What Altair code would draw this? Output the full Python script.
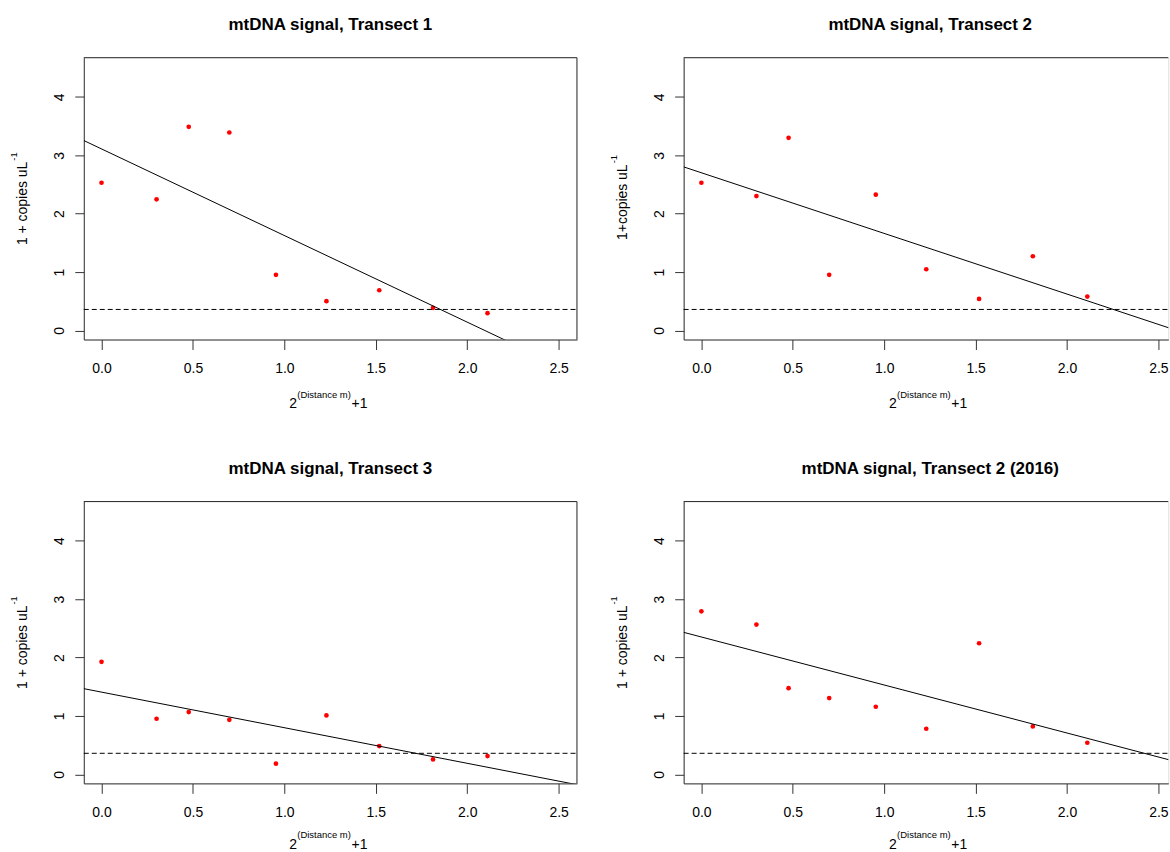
import altair as alt
import pandas as pd

# ---------------- data ----------------
x_vals = [0.000, 0.301, 0.477, 0.699, 0.954, 1.230, 1.519, 1.813, 2.111]
transect_1 = [2.530, 2.245, 3.487, 3.390, 0.952, 0.501, 0.689, 0.387, 0.296]
transect_2 = [2.530, 2.302, 3.299, 0.952, 2.325, 1.048, 0.541, 1.271, 0.581]
transect_3 = [1.926, 0.952, 1.066, 0.934, 0.182, 1.009, 0.484, 0.256, 0.313]
transect_2_2016 = [2.792, 2.564, 1.476, 1.305, 1.157, 0.781, 2.245, 0.821, 0.541]
series = [transect_1, transect_2, transect_3, transect_2_2016]

panel_titles = [
    "mtDNA signal, Transect 1",
    "mtDNA signal, Transect 2",
    "mtDNA signal, Transect 3",
    "mtDNA signal, Transect 2 (2016)",
]
y_title_main = ["1 + copies uL", "1+copies uL", "1 + copies uL", "1 + copies uL"]
y_title_sup = "-1"
x_title_parts = ["2", "(Distance m)", "+1"]
detection_limit = [0.36]

x_ticks = [0.0, 0.5, 1.0, 1.5, 2.0, 2.5]
y_ticks = [0, 1, 2, 3, 4]
x_domain_full = [-0.097, 2.6]
x_domain_cut = [-0.097, 2.554]
y_domain = [-0.155, 4.672]

# ---------------- style / layout ----------------
FONT = "Liberation Sans, Arial, sans-serif"
BOX = "#333333"
PW = 494.4          # plot width (left column)
RIGHT_W = 485.9     # right column is cut by the picture edge
PH = 282.6
COL_GAP = 106.4
ROW_GAP = 162.0


def text_mark(txt, px, py, size, angle=0, align="left"):
    df = pd.DataFrame({"t": [txt]})
    return alt.Chart(df).mark_text(
        align=align, baseline="alphabetic", font=FONT, fontSize=size,
        angle=angle, color="black"
    ).encode(text="t:N", x=alt.value(px), y=alt.value(py))


def panel(i, col, row):
    w = PW if col == 0 else RIGHT_W
    xdom = x_domain_full if col == 0 else x_domain_cut
    xs = alt.Scale(domain=xdom, nice=False, zero=False)
    ys = alt.Scale(domain=y_domain, nice=False, zero=False)

    xaxis = alt.Axis(
        values=x_ticks, format=".1f", title=None, grid=False,
        domain=True, domainColor=BOX, domainWidth=1,
        ticks=True, tickColor=BOX, tickWidth=1, tickSize=10,
        labelFont=FONT, labelFontSize=14, labelColor="black",
        labelBaseline="top", labelAlign="center", labelPadding=12,
        labelFlush=False, labelOverlap=False,
    )
    yaxis = alt.Axis(
        values=y_ticks, format="d", title=None, grid=False,
        domain=True, domainColor=BOX, domainWidth=1,
        ticks=True, tickColor=BOX, tickWidth=1, tickSize=9,
        labelFont=FONT, labelFontSize=14, labelColor="black",
        labelAngle=270, labelAlign="center", labelBaseline="alphabetic",
        labelPadding=11, labelFlush=False, labelOverlap=False,
    )
    X = alt.X("x:Q", scale=xs, axis=xaxis)
    Y = alt.Y("y:Q", scale=ys, axis=yaxis)

    df = pd.DataFrame({"x": x_vals, "y": series[i]})
    base = alt.Chart(df)

    points = base.mark_circle(size=22, color="#ff0000", opacity=1).encode(x=X, y=Y)
    fit = base.transform_regression(
        "x", "y", extent=x_domain_full
    ).mark_line(color="black", strokeWidth=1, clip=True).encode(x=X, y=Y)

    thr = alt.Chart(pd.DataFrame({"y": detection_limit})).mark_rule(
        color="black", strokeDash=[5, 3], strokeWidth=1
    ).encode(y=Y, x=alt.value(0), x2=alt.value(w))

    one = pd.DataFrame({"k": [0]})
    layers = [points, fit, thr]
    layers.append(alt.Chart(one).mark_rule(color=BOX, strokeWidth=1).encode(
        x=alt.value(0), x2=alt.value(w), y=alt.value(0)))
    if col == 0:
        layers.append(alt.Chart(one).mark_rule(color=BOX, strokeWidth=1).encode(
            x=alt.value(w), y=alt.value(0), y2=alt.value(PH)))

    # x-axis title 2^(Distance m)+1
    main_dy = 69 if row == 0 else 66
    sup_dy = main_dy - 10.8
    layers.append(text_mark(x_title_parts[0], 206, PH + main_dy, 14))
    layers.append(text_mark(x_title_parts[1], 214, PH + sup_dy, 9.5))
    layers.append(text_mark(x_title_parts[2], 268.4, PH + main_dy, 14))

    # y-axis title 1 + copies uL^-1 (rotated)
    join_y = 104.3 if i != 1 else 107.0
    layers.append(text_mark(y_title_main[i], -57, join_y, 14, angle=270, align="right"))
    layers.append(text_mark(y_title_sup, -67, join_y - 1, 9.5, angle=270, align="left"))

    if i == 0:
        # invisible horizontal layout anchor: fixes the picture's left edge
        layers.append(alt.Chart(one).mark_rule(strokeWidth=0, opacity=0).encode(
            x=alt.value(-83.3), x2=alt.value(-80), y=alt.value(PH / 2), y2=alt.value(PH / 2)))

    title_kw = dict(
        text=panel_titles[i], font=FONT, fontSize=17, fontWeight="bold",
        color="black", anchor="middle", baseline="alphabetic",
        frame="group", offset=10.5,
    )
    if col == 1:
        title_kw["dx"] = (PW - RIGHT_W) / 2
    return alt.layer(*layers).properties(
        width=w, height=PH, title=alt.TitleParams(**title_kw)
    )


chart = alt.concat(
    panel(0, 0, 0), panel(1, 1, 0), panel(2, 0, 1), panel(3, 1, 1),
    columns=2, spacing={"row": ROW_GAP, "column": COL_GAP}, bounds="flush",
).properties(
    padding={"top": 13.7, "left": 0, "right": 0, "bottom": 0}
).configure_view(strokeWidth=0).configure(background="white")

chart.save("out.html", embed_options={"renderer": "svg", "actions": False})
